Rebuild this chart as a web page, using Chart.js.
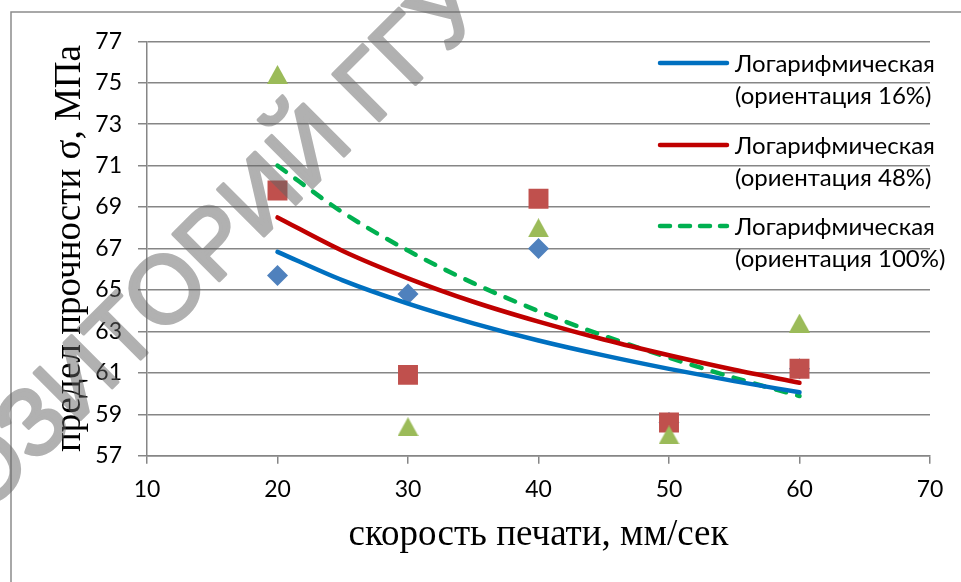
<!DOCTYPE html>
<html>
<head>
<meta charset="utf-8">
<script src="https://cdn.jsdelivr.net/npm/chart.js@4.4.1/dist/chart.umd.min.js"></script>
<style>
  html, body { margin: 0; padding: 0; background: #fff; }
  canvas { display: block; }
</style>
</head>
<body>
<canvas id="chart" width="961" height="582"></canvas>
<script>
// measured points (speed, strength)
const speeds = [20, 30, 40, 50, 60];
const orient16 = [65.7, 64.8, 67.0, 58.6, 61.2];
const orient48 = [69.8, 60.9, 69.4, 58.6, 61.2];
const orient100 = [75.4, 58.4, 68.0, 58.0, 63.4];

// logarithmic trend lines
const trendSpeeds = [20, 25, 30, 35, 40, 45, 50, 55, 60];
const trend16 = [66.84, 65.46, 64.34, 63.39, 62.56, 61.84, 61.19, 60.60, 60.06];
const trend48 = [68.50, 66.88, 65.56, 64.43, 63.47, 62.61, 61.85, 61.15, 60.52];
const trend100 = [71.00, 68.74, 66.90, 65.33, 63.98, 62.79, 61.73, 60.76, 59.88];

const trendLabels = [
    ["Логарифмическая", "(ориентация 16%)"],
    ["Логарифмическая", "(ориентация 48%)"],
    ["Логарифмическая", "(ориентация 100%)"]
];

const xTitle = "скорость печати, мм/сек";
const yTitle = "предел прочности σ, МПа";
const watermark = "РЕПОЗИТОРИЙ ГГУ";

const dash = [10.5, 11.5];

function pts(xs, ys) {
    return xs.map((x, i) => ({ x: x, y: ys[i] }));
}

// excel-like triangle marker, centred on its box
function triangleMarker(color) {
    const c = document.createElement("canvas");
    c.width = 21;
    c.height = 19;
    const g = c.getContext("2d");
    g.fillStyle = color;
    g.beginPath();
    g.moveTo(10.5, 0);
    g.lineTo(21, 19);
    g.lineTo(0, 19);
    g.closePath();
    g.fill();
    return c;
}

const frame = {
    id: "frame",
    beforeDraw(chart) {
        const ctx = chart.ctx;
        ctx.save();
        ctx.strokeStyle = "#8c8c8c";
        ctx.lineWidth = 1.5;
        ctx.beginPath();
        ctx.moveTo(11, 600);
        ctx.lineTo(11, 12);
        ctx.lineTo(970, 12);
        ctx.stroke();
        ctx.restore();
    }
};

const trendLegend = {
    id: "trendLegend",
    afterDatasetsDraw(chart) {
        const ctx = chart.ctx;
        const rows = [63, 145, 226];
        const colors = ["#0070C0", "#C00000", "#00B050"];
        ctx.save();
        rows.forEach((y, i) => {
            ctx.strokeStyle = colors[i];
            ctx.lineWidth = 4.5;
            ctx.lineCap = "round";
            ctx.setLineDash(i === 2 ? [10, 10] : []);
            ctx.beginPath();
            ctx.moveTo(660, y);
            ctx.lineTo(727, y);
            ctx.stroke();
            ctx.setLineDash([]);
            ctx.fillStyle = "#000";
            ctx.font = "24px Lato";
            ctx.textBaseline = "middle";
            ctx.textAlign = "left";
            ctx.fillText(trendLabels[i][0], 735, y + 1);
            ctx.fillText(trendLabels[i][1], 735, y + 33);
        });
        ctx.restore();
    }
};

// grey diagonal stamp over the whole picture
const stamp = {
    id: "stamp",
    afterDraw(chart) {
        const ctx = chart.ctx;
        const off = document.createElement("canvas");
        off.width = chart.width;
        off.height = chart.height;
        const g = off.getContext("2d");
        const size = 95;
        g.font = size + "px 'Liberation Sans'";
        const a = Math.PI / 4;
        const cap = 0.72 * size;
        // put the corner of the first "Г" where the picture has it
        const u = g.measureText("РЕПОЗИТОРИЙ ").width + 0.07 * size;
        const tx = 330 - Math.cos(a) * (u - cap);
        const ty = 73 + Math.cos(a) * (u + cap);
        g.translate(tx, ty);
        g.rotate(-a);
        g.fillStyle = "#646464";
        g.strokeStyle = "#646464";
        g.lineWidth = 3.5;
        g.lineJoin = "round";
        g.fillText(watermark, 0, 0);
        g.strokeText(watermark, 0, 0);
        ctx.save();
        ctx.globalAlpha = 0.5;
        ctx.drawImage(off, 0, 0);
        ctx.restore();
    }
};

new Chart(document.getElementById("chart"), {
    type: "scatter",
    data: {
        datasets: [
            {
                label: trendLabels[0].join(" "),
                type: "line",
                data: pts(trendSpeeds, trend16),
                borderColor: "#0070C0",
                borderWidth: 4.5,
                borderCapStyle: "round",
                pointRadius: 0,
                cubicInterpolationMode: "monotone",
                fill: false,
                order: 0
            },
            {
                label: trendLabels[1].join(" "),
                type: "line",
                data: pts(trendSpeeds, trend48),
                borderColor: "#C00000",
                borderWidth: 4.5,
                borderCapStyle: "round",
                pointRadius: 0,
                cubicInterpolationMode: "monotone",
                fill: false,
                order: 0
            },
            {
                label: trendLabels[2].join(" "),
                type: "line",
                data: pts(trendSpeeds, trend100),
                borderColor: "#00B050",
                borderWidth: 4.5,
                borderCapStyle: "round",
                borderDash: dash,
                pointRadius: 0,
                cubicInterpolationMode: "monotone",
                fill: false,
                order: 0
            },
            {
                label: "16%",
                data: pts(speeds, orient16),
                pointStyle: "rectRot",
                pointRadius: 10.5,
                pointHoverRadius: 10.5,
                backgroundColor: "#4F81BD",
                borderWidth: 0,
                order: 3
            },
            {
                label: "48%",
                data: pts(speeds, orient48),
                pointStyle: "rect",
                pointRadius: 14.1,
                pointHoverRadius: 14.1,
                backgroundColor: "#C0504D",
                borderWidth: 0,
                order: 2
            },
            {
                label: "100%",
                data: pts(speeds, orient100),
                pointStyle: triangleMarker("#9BBB59"),
                pointRadius: 11,
                backgroundColor: "#9BBB59",
                borderWidth: 0,
                order: 1
            }
        ]
    },
    options: {
        responsive: false,
        devicePixelRatio: 1,
        animation: false,
        layout: { padding: { top: 41.3, right: 31, bottom: 0, left: 0 } },
        plugins: {
            legend: { display: false },
            tooltip: { enabled: false }
        },
        scales: {
            x: {
                type: "linear",
                min: 10,
                max: 70,
                ticks: { stepSize: 10, color: "#000", font: { family: "Lato", size: 23 }, padding: 12 },
                grid: { drawOnChartArea: false, color: "#868686", lineWidth: 1.5, tickLength: 8 },
                border: { color: "#868686", width: 1.5 },
                title: {
                    display: true,
                    text: xTitle,
                    color: "#000",
                    font: { family: "Liberation Serif", size: 37, lineHeight: 1 },
                    padding: { top: 0, bottom: 28 }
                },
                afterFit(scale) { scale.height = 126.3; }
            },
            y: {
                min: 57,
                max: 77,
                ticks: { stepSize: 2, color: "#000", font: { family: "Lato", size: 23 }, padding: 16 },
                grid: { color: "#868686", lineWidth: 1.5, tickLength: 9 },
                border: { color: "#868686", width: 1.5 },
                title: {
                    display: true,
                    text: yTitle,
                    color: "#000",
                    font: { family: "Liberation Serif", size: 37, lineHeight: 1 },
                    padding: { top: 52, bottom: 0 }
                },
                afterFit(scale) { scale.width = 147; }
            }
        }
    },
    plugins: [frame, trendLegend, stamp]
});
</script>
</body>
</html>
